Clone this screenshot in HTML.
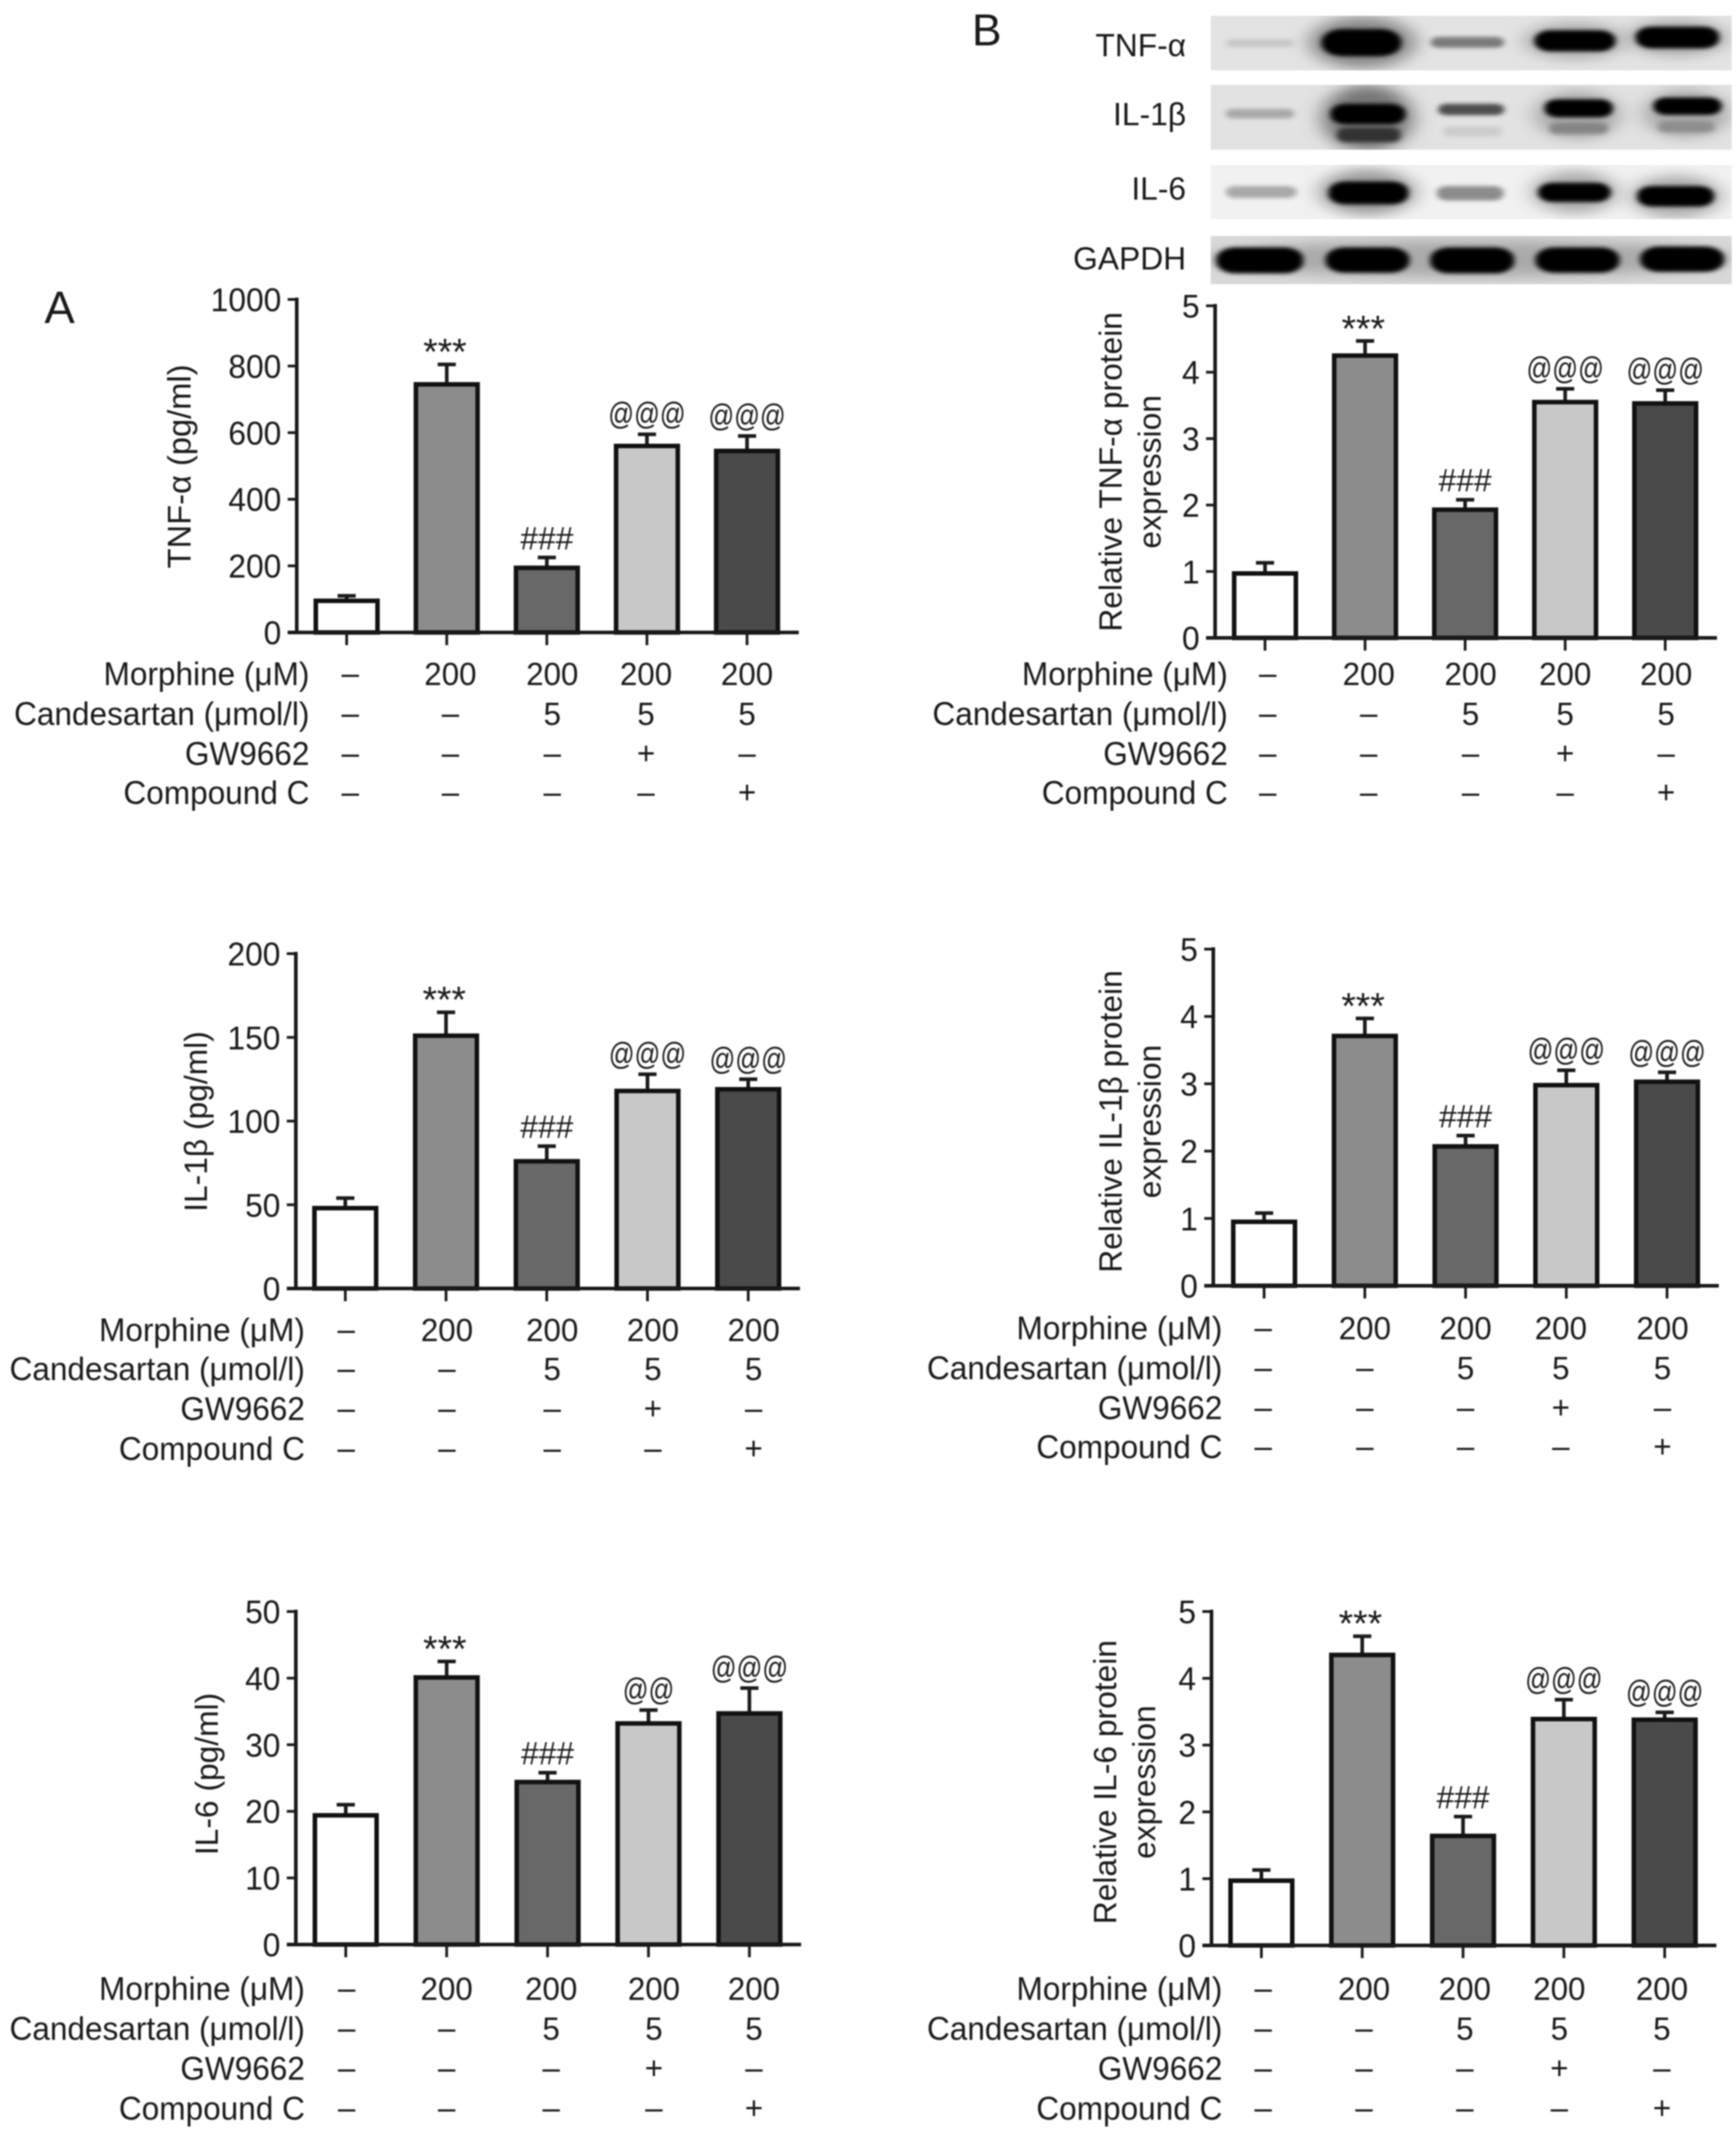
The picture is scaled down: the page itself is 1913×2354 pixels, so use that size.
<!DOCTYPE html>
<html lang="en">
<head>
<meta charset="utf-8">
<title>Cytokine levels and protein expression</title>
<style>
html,body{margin:0;padding:0;background:#fff;}
svg{display:block;filter:blur(0.8px);}
text{font-family:"Liberation Sans",sans-serif;fill:#1a1a1a;}
</style>
</head>
<body>
<svg id="figure" xmlns="http://www.w3.org/2000/svg" width="1913" height="2354" viewBox="0 0 1913 2354">
  <defs>
    <filter id="b1" x="-30%" y="-60%" width="160%" height="220%"><feGaussianBlur stdDeviation="6"/></filter>
    <filter id="b2" x="-40%" y="-80%" width="180%" height="260%"><feGaussianBlur stdDeviation="20"/></filter>
    <clipPath id="clip-tnf"><rect x="515" y="52" width="1030" height="181"/></clipPath>
    <clipPath id="clip-il1"><rect x="515" y="280" width="1030" height="215"/></clipPath>
    <clipPath id="clip-il6"><rect x="515" y="545" width="1030" height="180"/></clipPath>
    <clipPath id="clip-gapdh"><rect x="515" y="780" width="1030" height="160"/></clipPath>
  </defs>
  <text x="49" y="356" font-size="50">A</text>
  <text x="1071" y="50" font-size="49">B</text>

  <g>
    <g transform="translate(1047,0) scale(0.5575,0.3333)">
      <g clip-path="url(#clip-tnf)">
        <rect x="515" y="52" width="1030" height="181" fill="#e3e3e3"/>
        <ellipse cx="815" cy="140" rx="105" ry="85" fill="#888" filter="url(#b2)"/>
        <ellipse cx="1235" cy="135" rx="100" ry="60" fill="#aaa" filter="url(#b2)"/>
        <ellipse cx="1437" cy="125" rx="100" ry="60" fill="#aaa" filter="url(#b2)"/>
        <rect x="545" y="130" width="135" height="26" rx="12" fill="#c6c6c6" filter="url(#b1)"/>
        <rect x="734" y="96" width="158" height="90" rx="42" fill="#000" filter="url(#b1)"/>
        <rect x="950" y="122" width="145" height="36" rx="16" fill="#7a7a7a" filter="url(#b1)"/>
        <rect x="1155" y="100" width="160" height="70" rx="32" fill="#000" filter="url(#b1)"/>
        <rect x="1355" y="88" width="165" height="72" rx="32" fill="#000" filter="url(#b1)"/>
      </g>
      <g clip-path="url(#clip-il1)">
        <rect x="515" y="280" width="1030" height="215" fill="#e2e2e2"/>
        <ellipse cx="825" cy="390" rx="90" ry="110" fill="#777" filter="url(#b2)"/>
        <ellipse cx="1240" cy="380" rx="85" ry="80" fill="#aaa" filter="url(#b2)"/>
        <ellipse cx="1455" cy="375" rx="85" ry="80" fill="#aaa" filter="url(#b2)"/>
        <rect x="545" y="360" width="135" height="32" rx="14" fill="#a8a8a8" filter="url(#b1)"/>
        <rect x="752" y="343" width="148" height="68" rx="30" fill="#000" filter="url(#b1)"/>
        <rect x="765" y="422" width="125" height="48" rx="18" fill="#333" filter="url(#b1)"/>
        <rect x="965" y="343" width="130" height="38" rx="16" fill="#4e4e4e" filter="url(#b1)"/>
        <rect x="975" y="418" width="115" height="34" rx="12" fill="#cccccc" filter="url(#b1)"/>
        <rect x="1175" y="328" width="135" height="60" rx="26" fill="#000" filter="url(#b1)"/>
        <rect x="1185" y="405" width="115" height="38" rx="14" fill="#858585" filter="url(#b1)"/>
        <rect x="1390" y="322" width="135" height="58" rx="26" fill="#000" filter="url(#b1)"/>
        <rect x="1400" y="400" width="110" height="38" rx="14" fill="#8e8e8e" filter="url(#b1)"/>
      </g>
      <g clip-path="url(#clip-il6)">
        <rect x="515" y="545" width="1030" height="180" fill="#f1f1f1"/>
        <ellipse cx="825" cy="635" rx="95" ry="75" fill="#999" filter="url(#b2)"/>
        <ellipse cx="1235" cy="635" rx="85" ry="70" fill="#aaa" filter="url(#b2)"/>
        <ellipse cx="1435" cy="650" rx="90" ry="70" fill="#aaa" filter="url(#b2)"/>
        <rect x="545" y="615" width="140" height="40" rx="18" fill="#a8a8a8" filter="url(#b1)"/>
        <rect x="748" y="600" width="158" height="76" rx="34" fill="#000" filter="url(#b1)"/>
        <rect x="962" y="615" width="132" height="48" rx="20" fill="#8c8c8c" filter="url(#b1)"/>
        <rect x="1162" y="604" width="144" height="64" rx="30" fill="#050505" filter="url(#b1)"/>
        <rect x="1358" y="615" width="152" height="68" rx="30" fill="#050505" filter="url(#b1)"/>
      </g>
      <g clip-path="url(#clip-gapdh)">
        <rect x="515" y="780" width="1030" height="160" fill="#d8d8d8"/>
        <ellipse cx="1030" cy="855" rx="520" ry="60" fill="#aaa" filter="url(#b2)"/>
        <rect x="526" y="818" width="172" height="86" rx="38" fill="#000" filter="url(#b1)"/>
        <rect x="742" y="818" width="166" height="84" rx="38" fill="#000" filter="url(#b1)"/>
        <rect x="949" y="818" width="166" height="86" rx="38" fill="#000" filter="url(#b1)"/>
        <rect x="1157" y="818" width="166" height="84" rx="38" fill="#000" filter="url(#b1)"/>
        <rect x="1364" y="815" width="166" height="84" rx="38" fill="#000" filter="url(#b1)"/>
      </g>
    </g>
    <text text-anchor="end" x="1307" y="62" font-size="35">TNF-α</text>
    <text text-anchor="end" x="1307" y="138" font-size="35">IL-1β</text>
    <text text-anchor="end" x="1307" y="220" font-size="35">IL-6</text>
    <text text-anchor="end" x="1307" y="297" font-size="35">GAPDH</text>
  </g>
  <g id="charts"></g>
</svg>
<script>
var groups = ['control', 'morphine', 'morphine-candesartan', 'morphine-candesartan-gw9662', 'morphine-candesartan-compound-c'];
var barFills = ['#ffffff', '#8c8c8c', '#686868', '#c8c8c8', '#4a4a4a'];

var rowLabels = ['Morphine (μM)', 'Candesartan (μmol/l)', 'GW9662', 'Compound C'];
var morphineRow = ['–', '200', '200', '200', '200'];
var candesartanRow = ['–', '–', '5', '5', '5'];
var gw9662Row = ['–', '–', '–', '+', '–'];
var compoundCRow = ['–', '–', '–', '–', '+'];

var tnfElisaTicks = [0, 200, 400, 600, 800, 1000];
var tnfElisaValues = [95, 745, 194, 560, 545];
var tnfElisaErrorTops = [110, 805, 225, 595, 590];
var tnfElisaMarks = ['', '***', '###', '@@@', '@@@'];

var il1ElisaTicks = [0, 50, 100, 150, 200];
var il1ElisaValues = [48, 151, 76, 118, 119];
var il1ElisaErrorTops = [54, 165, 85, 128, 125];
var il1ElisaMarks = ['', '***', '###', '@@@', '@@@'];

var il6ElisaTicks = [0, 10, 20, 30, 40, 50];
var il6ElisaValues = [19.4, 40.1, 24.4, 33.2, 34.7];
var il6ElisaErrorTops = [21, 42.5, 25.8, 35.2, 38.5];
var il6ElisaMarks = ['', '***', '###', '@@', '@@@'];

var proteinTicks = [0, 1, 2, 3, 4, 5];
var tnfBlotValues = [0.97, 4.25, 1.93, 3.55, 3.53];
var tnfBlotErrorTops = [1.13, 4.47, 2.08, 3.75, 3.73];
var tnfBlotMarks = ['', '***', '###', '@@@', '@@@'];

var il1BlotValues = [0.95, 3.71, 2.07, 2.98, 3.03];
var il1BlotErrorTops = [1.08, 3.97, 2.23, 3.2, 3.17];
var il1BlotMarks = ['', '***', '###', '@@@', '@@@'];

var il6BlotValues = [0.97, 4.35, 1.64, 3.39, 3.38];
var il6BlotErrorTops = [1.13, 4.63, 1.93, 3.68, 3.49];
var il6BlotMarks = ['', '***', '###', '@@@', '@@@'];

var NS = 'http://www.w3.org/2000/svg';
var root = document.getElementById('charts');

function make(tag, parent, attrs, content) {
  var node = document.createElementNS(NS, tag);
  for (var k in attrs) node.setAttribute(k, attrs[k]);
  if (content !== undefined) node.textContent = content;
  parent.appendChild(node);
  return node;
}

function drawPanel(p) {
  var g = make('g', root, {});
  
  

  var maxTick = p.ticks[p.ticks.length - 1];
  function yScale(v) { return p.y0 - (v / maxTick) * (p.y0 - p.top); }
  function xScale(i) { return p.x0 + i * p.step; }
  var barWidth = 68;

  // bars and error bars
  p.values.forEach(function (v, i) {
    var cx = xScale(i);
    var errTop = yScale(p.errors[i]);
    var err = make('path', g, {
      d: 'M' + cx + ' ' + yScale(v) + 'V' + errTop + 'M' + (cx - 10) + ' ' + errTop + 'H' + (cx + 10),
      fill: 'none', stroke: '#1a1a1a', 'stroke-width': 4
    });
    
    

    var bar = make('rect', g, {
      x: cx - barWidth / 2, y: yScale(v), width: barWidth, height: p.y0 - yScale(v),
      fill: barFills[i], stroke: '#111', 'stroke-width': 5
    });
    
    

    if (p.marks[i]) {
      var isStar = p.marks[i] === '***';
      var isHash = p.marks[i] === '###';
      var lift = isStar ? 0 : isHash ? 9 : 11;
      var stretch = isStar || isHash ? 1 : 1.22;
      var mark = make('text', g, {
        'text-anchor': 'middle', 'font-size': isStar ? 41 : isHash ? 35 : 28,
        transform: 'translate(' + (isStar ? cx - 2 : cx) + ',' + (errTop - lift) + ') scale(1,' + stretch + ')'
      }, p.marks[i]);
      
      
    }
  });

  // axes
  var yAxis = make('line', g, { x1: p.axisX, x2: p.axisX, y1: p.top - 2, y2: p.y0 + 2, stroke: '#1a1a1a', 'stroke-width': 4 });
  
  

  var xAxis = make('line', g, { x1: p.axisX - 10, x2: xScale(4) + 57, y1: p.y0, y2: p.y0, stroke: '#1a1a1a', 'stroke-width': 4 });
  
  

  p.ticks.forEach(function (t) {
    var tick = make('line', g, { x1: p.axisX - 10, x2: p.axisX, y1: yScale(t), y2: yScale(t), stroke: '#1a1a1a', 'stroke-width': 3 });
    
    

    var label = make('text', g, {
      'text-anchor': 'end', 'font-size': 35,
      transform: 'translate(' + (p.axisX - 17) + ',' + (yScale(t) + 13) + ') scale(1,1.03)'
    }, t);
    
    
  });

  groups.forEach(function (name, i) {
    var tick = make('line', g, { x1: xScale(i), x2: xScale(i), y1: p.y0, y2: p.y0 + 14, stroke: '#1a1a1a', 'stroke-width': 3 });
    
    
  });

  // y-axis title
  p.title.forEach(function (line, n) {
    var title = make('text', g, {
      'text-anchor': 'middle', 'font-size': p.titleSize,
      transform: 'translate(' + p.titleX[n] + ',' + p.titleY + ') rotate(-90)'
    }, line);
    
    
  });

  // treatment table below the axis
  [morphineRow, candesartanRow, gw9662Row, compoundCRow].forEach(function (row, r) {
    var baseline = p.baselines[r];
    var head = make('text', g, {
      'text-anchor': 'end', 'font-size': 34.8,
      transform: 'translate(' + p.labelRight + ',' + baseline + ') scale(1,1.03)'
    }, rowLabels[r]);
    
    

    row.forEach(function (cell, i) {
      var c = make('text', g, {
        'text-anchor': 'middle', 'font-size': 34.5,
        transform: 'translate(' + (xScale(i) + p.cellShift[i]) + ',' + (cell === '–' || cell === '+' ? baseline - 1 : baseline) + ') scale(1,1.03)'
      }, cell);
      
      
    });
  });
}

drawPanel({ name: 'chart-tnf-alpha-elisa', ticks: tnfElisaTicks, values: tnfElisaValues, errors: tnfElisaErrorTops, marks: tnfElisaMarks,
  x0: 382, step: 110.3, axisX: 327, top: 330, y0: 697, title: ['TNF-α (pg/ml)'], titleSize: 36, titleX: [210], titleY: 514,
  labelRight: 341, baselines: [755, 799, 843, 886], cellShift: [4, 4, 6, -1, 0] });
drawPanel({ name: 'chart-il-1-beta-elisa', ticks: il1ElisaTicks, values: il1ElisaValues, errors: il1ElisaErrorTops, marks: il1ElisaMarks,
  x0: 380.5, step: 111, axisX: 326, top: 1051, y0: 1420, title: ['IL-1β (pg/ml)'], titleSize: 35, titleX: [228], titleY: 1236,
  labelRight: 336, baselines: [1478, 1521, 1565, 1609], cellShift: [1, 1, 6, 6, 6] });
drawPanel({ name: 'chart-il-6-elisa', ticks: il6ElisaTicks, values: il6ElisaValues, errors: il6ElisaErrorTops, marks: il6ElisaMarks,
  x0: 381, step: 111.2, axisX: 326, top: 1776, y0: 2143, title: ['IL-6 (pg/ml)'], titleSize: 35, titleX: [240], titleY: 1955,
  labelRight: 336, baselines: [2204, 2248, 2292, 2336], cellShift: [1, 0, 4, 6, 5] });
drawPanel({ name: 'chart-tnf-alpha-protein', ticks: proteinTicks, values: tnfBlotValues, errors: tnfBlotErrorTops, marks: tnfBlotMarks,
  x0: 1394, step: 110.25, axisX: 1339, top: 337, y0: 703, title: ['Relative TNF-α protein', 'expression'], titleSize: 35, titleX: [1236, 1279], titleY: 520,
  labelRight: 1353, baselines: [755, 799, 843, 886], cellShift: [3, 4, 6, 0, 1] });
drawPanel({ name: 'chart-il-1-beta-protein', ticks: proteinTicks, values: il1BlotValues, errors: il1BlotErrorTops, marks: il1BlotMarks,
  x0: 1393, step: 111, axisX: 1337, top: 1046, y0: 1417, title: ['Relative IL-1β protein', 'expression'], titleSize: 35, titleX: [1236, 1279], titleY: 1236,
  labelRight: 1347, baselines: [1476, 1520, 1564, 1607], cellShift: [-1, 0, 0, -6, -5] });
drawPanel({ name: 'chart-il-6-protein', ticks: proteinTicks, values: il6BlotValues, errors: il6BlotErrorTops, marks: il6BlotMarks,
  x0: 1390, step: 111.1, axisX: 1335, top: 1776, y0: 2144, title: ['Relative IL-6 protein', 'expression'], titleSize: 35, titleX: [1230, 1273], titleY: 1964,
  labelRight: 1347, baselines: [2204, 2248, 2292, 2336], cellShift: [2, 2, 2, -5, -3] });
</script>
</body>
</html>
